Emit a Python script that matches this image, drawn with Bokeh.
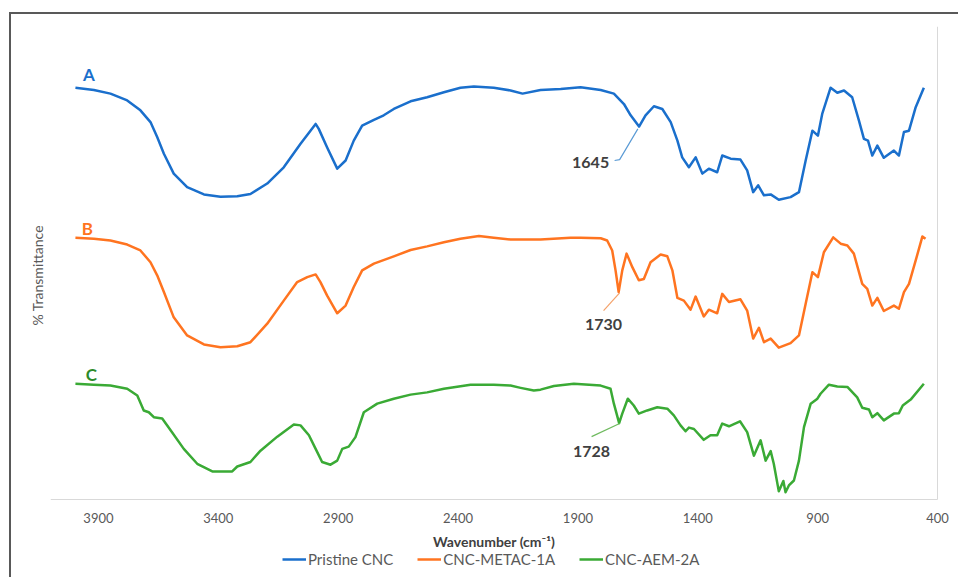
from bokeh.plotting import figure
from bokeh.models import (Range1d, FixedTicker, Label, Legend, LegendItem)
from bokeh.core.properties import value
from bokeh.embed import file_html
from bokeh.resources import INLINE

# ---- data (wavenumber cm-1, offset % transmittance) ----
wn_a = [3996,3919,3850,3780,3725,3683,3655,3627,3586,3530,3460,3391,3321,3266,3196,3127,3057,2994,2981,2946,2904,2869,2835,2800,2751,2710,2668,2598,2529,2459,2390,2334,2251,2181,2131,2056,1972,1889,1805,1750,1708,1680,1645,1618,1583,1548,1513,1485,1465,1437,1409,1381,1354,1319,1298,1263,1222,1194,1169,1148,1124,1096,1062,1013,978,950,922,899,881,846,818,790,756,728,707,690,672,651,624,582,561,540,519,491,457]
t_a = [91.1,90.6,89.8,88.3,86.1,83.5,80.2,76.5,72.1,69.1,67.5,67.0,67.1,67.6,69.9,73.5,78.7,83.1,82.0,77.9,73.2,75.0,79.4,82.7,84.0,85.0,86.4,88.1,89.0,90.1,91.1,91.4,91.1,90.5,89.8,90.6,90.8,91.2,90.6,89.8,87.5,85.0,82.5,85.0,87.0,86.4,83.5,79.4,75.7,73.5,75.7,72.1,73.2,72.4,76.1,75.4,75.2,72.8,68.0,69.5,67.3,67.5,66.3,66.9,68.0,75.0,81.6,80.5,85.3,91.1,90.0,90.5,89.0,83.9,79.8,79.4,76.1,78.3,75.6,77.2,76.1,81.3,81.6,86.8,91.1]

wn_b = [3996,3919,3850,3780,3725,3683,3655,3627,3586,3530,3460,3391,3321,3266,3196,3127,3071,3029,2994,2974,2946,2904,2869,2835,2800,2751,2668,2598,2529,2459,2390,2313,2251,2181,2056,1931,1889,1805,1778,1757,1743,1730,1715,1697,1673,1646,1625,1597,1555,1527,1506,1485,1458,1430,1409,1375,1354,1319,1298,1270,1222,1194,1169,1145,1124,1096,1062,1013,978,950,922,899,874,835,804,776,749,714,693,672,651,624,582,561,540,519,491,463,450]
t_b = [57.9,57.7,57.3,56.4,55.1,52.5,49.6,45.9,40.3,36.3,34.3,33.7,33.9,34.8,38.9,44.0,48.1,49.2,49.8,48.1,45.1,41.2,42.9,47.0,50.7,52.2,53.8,55.2,56.0,56.9,57.7,58.3,57.9,57.5,57.5,57.9,57.9,57.8,57.3,55.1,50.7,45.9,50.7,54.4,51.4,48.5,48.8,52.5,54.2,53.8,50.7,44.6,44.0,42.0,44.9,40.5,42.0,41.2,45.5,43.7,44.3,41.8,35.6,38.0,34.8,35.6,33.6,34.6,36.3,43.3,50.3,49.2,54.7,58.0,56.6,56.2,54.4,47.7,46.6,42.9,44.6,41.7,42.9,42.2,45.9,47.7,52.9,58.2,57.7]

wn_c = [3996,3919,3850,3780,3738,3711,3690,3669,3634,3599,3544,3488,3425,3342,3321,3266,3224,3154,3085,3057,3022,2994,2967,2932,2904,2883,2856,2828,2793,2737,2668,2598,2529,2459,2348,2251,2181,2139,2084,2056,2000,1917,1805,1764,1750,1728,1715,1692,1667,1646,1611,1569,1527,1500,1472,1451,1437,1416,1375,1347,1319,1298,1270,1224,1194,1166,1138,1117,1096,1083,1062,1043,1034,1020,999,978,957,929,901,888,853,818,776,735,714,686,672,651,624,582,561,545,512,457]
t_c = [25.6,25.4,25.2,24.5,23.0,19.7,19.3,18.2,17.9,15.3,11.2,7.9,6.2,6.2,7.3,8.3,10.8,13.9,16.6,16.4,14.2,11.2,8.3,7.7,8.6,11.2,11.7,13.8,19.3,21.2,22.3,23.2,23.7,24.5,25.4,25.4,25.2,24.7,24.1,24.3,25.1,25.6,25.2,24.5,21.2,16.9,19.0,22.3,20.8,19.0,19.7,20.4,20.1,18.6,16.4,15.1,15.9,15.6,13.2,14.2,14.2,16.8,16.2,17.3,14.9,9.7,13.1,8.6,10.7,7.9,1.8,4.1,1.6,3.1,4.2,8.6,16.0,21.2,22.3,23.4,25.4,25.0,24.9,22.6,20.3,19.9,18.2,19.1,17.5,19.0,19.1,20.8,22.1,25.6]

series_names = ["Pristine CNC", "CNC-METAC-1A", "CNC-AEM-2A"]
series_colors = ["#1a6fcc", "#ff7420", "#3aaa35"]
letter_colors = ["#1a6fcc", "#ff7420", "#2e8b2a"]
leader_colors = ["#5b9bd5", "#f4a26a", "#6fba5f"]

x_ticks = [3900, 3400, 2900, 2400, 1900, 1400, 900, 400]
x_tick_labels = ["3900", "3400", "2900", "2400", "1900", "1400", "900", "400"]
x_title = "Wavenumber (cm\u207b\u00b9)"
y_title = "% Transmittance"

# axis extents (wavenumber reversed, offset %T)
x_min, x_max = 400, 4100
x_view_min = 325           # a little room right of the axis for the "400" label
y_base, y_top = 0.0, 104.65
y_bottom = -17.26          # room below the axis for tick labels, title, legend
tick_label_y = -4.2
x_title_y = -9.3
y_title_at = 49.6

# series letters
letters = ["A", "B", "C"]
letter_x = [3940, 3946, 3929]
letter_y = [94.0, 60.0, 27.7]

# peak annotations
peak_text = ["1645", "1730", "1728"]
peak_text_x = [1847, 1793, 1843]
peak_text_y = [74.6, 38.7, 10.6]
leader_x = [[1747, 1726, 1650], [1793, 1726], [1843, 1726]]
leader_y = [[75.0, 75.2, 82.0], [41.8, 45.7], [13.9, 16.8]]

# ---- figure ----
p = figure(frame_width=905, frame_height=551, output_backend="svg",
           toolbar_location=None,
           x_range=Range1d(x_max, x_view_min), y_range=Range1d(y_bottom, y_top),
           min_border_left=39, min_border_right=3, min_border_top=12,
           min_border_bottom=0)
p.styles = {"margin-left": "9px", "margin-top": "12px",
            "border-left": "2px solid #595959", "border-top": "2px solid #595959"}
p.outline_line_color = None
p.xgrid.visible = False
p.ygrid.visible = False
p.background_fill_color = "white"
p.border_fill_color = "white"
p.xaxis.visible = False

ya = p.yaxis[0]
ya.ticker = FixedTicker(ticks=[y_title_at])
ya.major_label_overrides = {y_title_at: y_title}
ya.major_label_orientation = "vertical"
ya.axis_line_color = None
ya.major_tick_line_color = None
ya.minor_tick_line_color = None
ya.major_tick_out = 0
ya.major_tick_in = 0
ya.major_label_standoff = 4
ya.major_label_text_font = "Lato"
ya.major_label_text_font_size = "14px"
ya.major_label_text_color = "#595959"

# axis lines: bottom (x axis) and right (value axis at 400)
p.segment(x0=[x_max, x_min], y0=[y_base, y_base], x1=[x_min, x_min],
          y1=[y_base, y_top], line_color="#d9d9d9", line_width=1)

# tick labels and axis title
p.text(x=x_ticks, y=[tick_label_y] * len(x_ticks), text=x_tick_labels,
       text_font=value("Lato"), text_font_size="13px", text_color="#595959",
       text_align="center", text_baseline="middle")
p.text(x=[(x_min + x_max) / 2], y=[x_title_y], text=[x_title],
       text_font=value("Lato"), text_font_size="14px", text_font_style="bold",
       text_color="#404040", text_align="center", text_baseline="middle")

renderers = []
for wn, t, col in zip([wn_a, wn_b, wn_c], [t_a, t_b, t_c], series_colors):
    r = p.line(wn, t, line_color=col, line_width=2.5, line_join="round")
    renderers.append(r)

for lx, ly, col in zip(leader_x, leader_y, leader_colors):
    p.line(lx, ly, line_color=col, line_width=1.2)

for txt, x, y, col in zip(letters, letter_x, letter_y, letter_colors):
    p.add_layout(Label(x=x, y=y, text=txt, text_color=col, text_font="Lato",
                       text_font_size="17px", text_font_style="bold",
                       text_align="center", text_baseline="middle"))

for txt, x, y in zip(peak_text, peak_text_x, peak_text_y):
    p.add_layout(Label(x=x, y=y, text=txt, text_color="#404040", text_font="Lato",
                       text_font_size="16px", text_font_style="bold",
                       text_align="center", text_baseline="middle"))

legend = Legend(items=[LegendItem(label=n, renderers=[r])
                       for n, r in zip(series_names, renderers)],
                orientation="horizontal", location=(232, 9),
                border_line_color=None, background_fill_alpha=0,
                label_text_font="Lato", label_text_font_size="15px",
                label_text_color="#595959", glyph_width=24, glyph_height=14,
                label_height=16, label_standoff=2, spacing=24, padding=0,
                margin=0)
p.add_layout(legend, "center")

open("out.html", "w").write(file_html(p, INLINE))
